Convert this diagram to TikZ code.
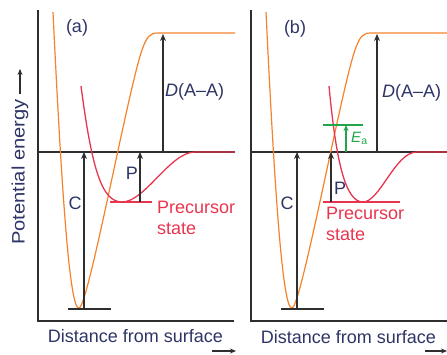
\documentclass[tikz,border=0pt]{standalone}
\usepackage{fontspec}
\setmainfont{Liberation Sans}
\usetikzlibrary{arrows.meta}
\definecolor{curveorange}{HTML}{F5822A}
\definecolor{curvered}{HTML}{E8354F}
\definecolor{labelnavy}{HTML}{2E3566}
\definecolor{eagreen}{HTML}{1FA64A}
\definecolor{axisgray}{HTML}{2E2E2E}
\begin{document}
\begin{tikzpicture}[x=1pt,y=-1pt,
  axisline/.style={draw=axisgray,line width=1.7pt},
  levelline/.style={draw=axisgray,line width=1.5pt},
  uparrow/.style={draw=axisgray,line width=1.4pt,-{Stealth[length=7pt,width=6pt]}},
  orangecurve/.style={draw=curveorange,line width=1.2pt},
  redcurve/.style={draw=curvered,line width=1.3pt},
  redbar/.style={draw=curvered,line width=1.5pt},
  greenline/.style={draw=eagreen,line width=1.5pt},
  greenarrow/.style={draw=eagreen,line width=1.4pt,-{Stealth[length=6pt,width=5pt]}},
  lbl/.style={text=labelnavy,font=\fontsize{18}{20}\selectfont,inner sep=0pt},
  prectext/.style={text=curvered,font=\fontsize{18}{21}\selectfont,inner sep=0pt,align=left},
  axisarrow/.style={draw=axisgray,line width=1.3pt,-{Stealth[length=6pt,width=5pt]}}
]
\useasboundingbox (0,0) rectangle (447,354);

% ---------------- panel (a) ----------------
\draw[axisline] (38,10) -- (38,321) -- (234,321);
\draw[levelline] (38,152) -- (235,152);
\draw[orangecurve] (53,12) .. controls (62,200) and (70,310) .. (79,308)
  .. controls (88,308) and (128,90) .. (142,50)
  .. controls (147,36) and (150,33) .. (158,33) -- (235,33);
\draw[redcurve] (81,86) .. controls (92,170) and (102,202) .. (122,202)
  .. controls (145,202) and (170,152) .. (195,152) -- (235,152);
\draw[levelline] (68,309) -- (111,309);
\draw[redbar] (110,202) -- (152,202);
\coordinate (aCbot) at (84,309);
\coordinate (aCtop) at (84,152);
\coordinate (aPbot) at (140,202);
\coordinate (aPtop) at (140,152);
\coordinate (aDbot) at (163,152);
\coordinate (aDtop) at (163,34);
\draw[uparrow] (aCbot) -- (aCtop);
\draw[uparrow] (aPbot) -- (aPtop);
\draw[uparrow] (aDbot) -- (aDtop);
\node[lbl] (alab) at (77,28) {(a)};
\node[lbl] (aC) at (75,203) {C};
\node[lbl] (aP) at (132,173) {P};
\node[lbl,anchor=west] (aD) at (165,92) {\textit{D}(A–A)};
\node[prectext,anchor=north west] (aprec) at (157,201) {Precursor\\state};

% ---------------- panel (b) ----------------
\draw[axisline] (251,10) -- (251,321) -- (447,321);
\draw[levelline] (251,152) -- (447,152);
\draw[orangecurve] (266,12) .. controls (275,200) and (283,310) .. (292,308)
  .. controls (301,308) and (341,90) .. (355,50)
  .. controls (360,36) and (363,33) .. (371,33) -- (447,33);
\draw[redcurve] (329,86) .. controls (336,160) and (345,202) .. (363,202)
  .. controls (380,202) and (395,152) .. (417,152) -- (447,152);
\draw[levelline] (281,309) -- (324,309);
\draw[redbar] (323,202) -- (400,202);
\draw[greenline] (323,125) -- (363,125);
\coordinate (bCbot) at (297,309);
\coordinate (bCtop) at (297,152);
\coordinate (bPbot) at (331,202);
\coordinate (bPtop) at (331,152);
\coordinate (bDbot) at (377,152);
\coordinate (bDtop) at (377,34);
\coordinate (bEbot) at (346,152);
\coordinate (bEtop) at (346,125);
\draw[uparrow] (bCbot) -- (bCtop);
\draw[uparrow] (bPbot) -- (bPtop);
\draw[uparrow] (bDbot) -- (bDtop);
\draw[greenarrow] (bEbot) -- (bEtop);
\node[lbl] (blab) at (295,29) {(b)};
\node[lbl] (bC) at (287,203) {C};
\node[lbl] (bP) at (340,188) {P};
\node[lbl,anchor=west] (bD) at (382,93) {\textit{D}(A–A)};
\node[text=eagreen,font=\fontsize{15}{17}\selectfont,inner sep=0pt,anchor=west] (bE) at (351,138) {\textit{E}\textsubscript{a}};
\node[prectext,anchor=north west] (bprec) at (326,207) {Precursor\\state};

% ---------------- axis labels ----------------
\node[lbl,rotate=90] (ylab) at (20,172) {\scalebox{1.12}[1]{Potential energy}};
\draw[axisarrow] ([yshift=5pt]ylab.east) -- ++(0,-25);
\node[lbl] (axlab) at (135.5,336) {Distance from surface};
\node[lbl] (bxlab) at (348.5,337) {Distance from surface};
\coordinate (axa) at (212,351);
\coordinate (axb) at (236,351);
\coordinate (bxa) at (425,351);
\coordinate (bxb) at (447,351);
\draw[axisarrow] (axa) -- (axb);
\draw[axisarrow] (bxa) -- (bxb);
\end{tikzpicture}
\end{document}
